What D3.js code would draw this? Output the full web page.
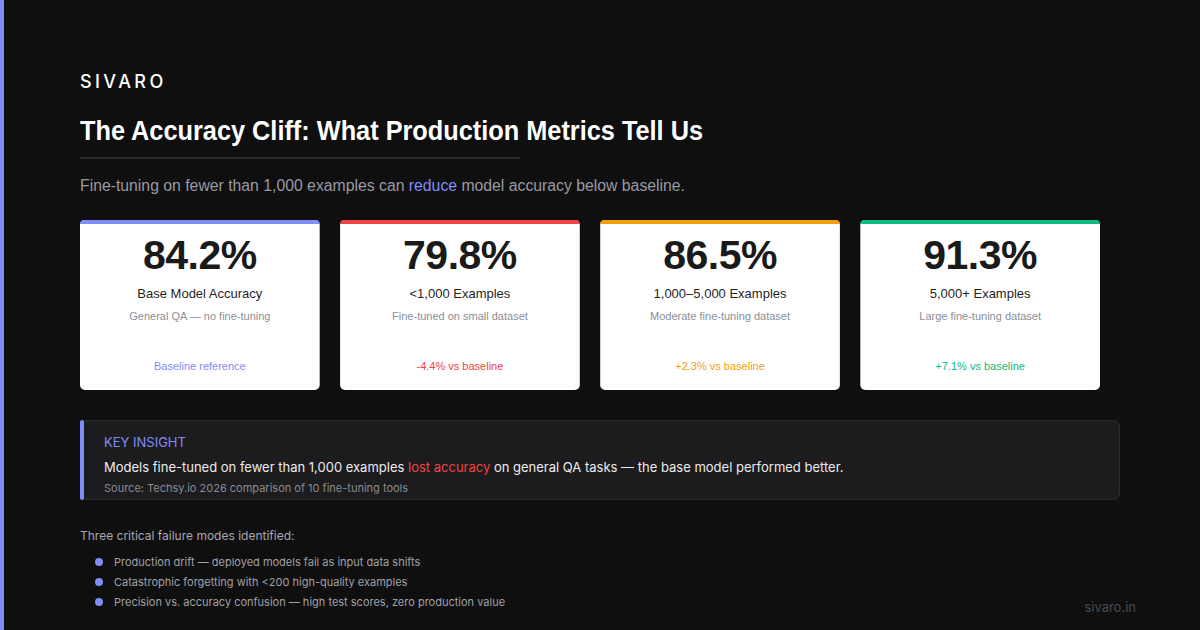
<!DOCTYPE html>
<html>
<head>
<meta charset="utf-8">
<script src="https://cdn.jsdelivr.net/npm/d3@7"></script>
<style>
  html, body { margin: 0; padding: 0; background: #0f0f10; }
  svg { display: block; }
</style>
</head>
<body>
<div id="chart"></div>
<script>
// data
var groups = ['Base Model Accuracy', '<1,000 Examples', '1,000\u20135,000 Examples', '5,000+ Examples'];
var accuracy = [84.2, 79.8, 86.5, 91.3];
var details = ['General QA \u2014 no fine-tuning', 'Fine-tuned on small dataset', 'Moderate fine-tuning dataset', 'Large fine-tuning dataset'];
var deltas = [null, -4.4, 2.3, 7.1];
var failureModes = [
    'Production drift \u2014 deployed models fail as input data shifts',
    'Catastrophic forgetting with <200 high-quality examples',
    'Precision vs. accuracy confusion \u2014 high test scores, zero production value'
];
// end data

var W = 1200, H = 630;
var helv = '"Liberation Sans", Arial, sans-serif';
var sans = 'Inter, "Noto Sans", sans-serif';

var svg = d3.select('#chart').append('svg')
    .attr('width', W)
    .attr('height', H);

svg.append('rect').attr('width', W).attr('height', H).attr('fill', '#0f0f10');
svg.append('rect').attr('width', 4).attr('height', H).attr('fill', '#818cf8');

// header
svg.append('text')
    .attr('x', 80).attr('y', 88)
    .attr('fill', '#ffffff')
    .style('font-family', sans)
    .style('font-size', '18px')
    .style('font-weight', 500)
    .style('letter-spacing', '3.4px')
    .text('SIVARO');

// title font here is condensed, so squeeze it to the reference width
svg.append('text')
    .attr('x', 80).attr('y', 140)
    .attr('fill', '#ffffff')
    .attr('textLength', 623)
    .attr('lengthAdjust', 'spacingAndGlyphs')
    .style('font-family', helv)
    .style('font-size', '28px')
    .style('font-weight', 700)
    .text('The Accuracy Cliff: What Production Metrics Tell Us');

svg.append('rect')
    .attr('x', 80).attr('y', 157)
    .attr('width', 440).attr('height', 2)
    .attr('fill', '#2a2a2d');

var sub = svg.append('text')
    .attr('x', 80).attr('y', 191)
    .attr('fill', '#9a9aa3')
    .attr('textLength', 605)
    .attr('lengthAdjust', 'spacingAndGlyphs')
    .style('font-family', helv)
    .style('font-size', '16px');
sub.append('tspan').text('Fine-tuning on fewer than 1,000 examples can ');
sub.append('tspan').attr('fill', '#818cf8').text('reduce');
sub.append('tspan').text(' model accuracy below baseline.');

// cards
var accent = d3.scaleOrdinal()
    .domain(groups)
    .range(['#818cf8', '#ef4444', '#f59e0b', '#10b981']);

var x = d3.scaleBand()
    .domain(groups)
    .range([80, 1100])
    .paddingInner(20 / 255)
    .paddingOuter(0);

var cardTop = 220, cardH = 170;

var cards = svg.selectAll('g.card')
    .data(groups)
    .enter().append('g')
    .attr('class', 'card')
    .attr('transform', function(d){ return 'translate(' + x(d) + ',' + cardTop + ')'; });

cards.append('rect')
    .attr('width', x.bandwidth())
    .attr('height', cardH)
    .attr('rx', 5)
    .attr('fill', '#ffffff');

cards.append('path')
    .attr('d', function(){
        var w = x.bandwidth(), r = 4;
        return 'M0,4L0,' + r + 'Q0,0 ' + r + ',0L' + (w - r) + ',0Q' + w + ',0 ' + w + ',' + r + 'L' + w + ',4Z';
    })
    .attr('fill', function(d){ return accent(d); });

cards.append('text')
    .attr('x', x.bandwidth() / 2)
    .attr('y', 49)
    .attr('text-anchor', 'middle')
    .attr('fill', '#1a1a1a')
    .style('font-family', helv)
    .style('font-size', '41px')
    .style('font-weight', 700)
    .style('letter-spacing', '-0.5px')
    .text(function(d, i){ return accuracy[i].toFixed(1) + '%'; });

cards.append('text')
    .attr('x', x.bandwidth() / 2).attr('y', 78)
    .attr('text-anchor', 'middle')
    .attr('fill', '#1f1f1f')
    .style('font-family', helv)
    .style('font-size', '13px')
    .text(function(d){ return d; });

cards.append('text')
    .attr('x', x.bandwidth() / 2).attr('y', 100)
    .attr('text-anchor', 'middle')
    .attr('fill', '#8a8f98')
    .style('font-family', helv)
    .style('font-size', '11px')
    .text(function(d, i){ return details[i]; });

cards.append('text')
    .attr('x', x.bandwidth() / 2).attr('y', 150)
    .attr('text-anchor', 'middle')
    .attr('fill', function(d){ return accent(d); })
    .style('font-family', helv)
    .style('font-size', '11px')
    .text(function(d, i){
        var v = deltas[i];
        if(v === null){
            return 'Baseline reference';
        }
        return (v > 0 ? '+' : '') + v.toFixed(1) + '% vs baseline';
    });

// key insight box
var box = svg.append('g').attr('transform', 'translate(80,420)');
box.append('rect')
    .attr('x', 0.5).attr('y', 0.5)
    .attr('width', 1039).attr('height', 79)
    .attr('rx', 6)
    .attr('fill', '#1c1c1f')
    .attr('stroke', '#2c2c30');
box.append('rect')
    .attr('x', 0).attr('y', 0)
    .attr('width', 4).attr('height', 80)
    .attr('rx', 2)
    .attr('fill', '#818cf8');

box.append('text')
    .attr('x', 24).attr('y', 27)
    .attr('fill', '#818cf8')
    .style('font-family', sans)
    .style('font-size', '13px')
    .text('KEY INSIGHT');

var insight = box.append('text')
    .attr('x', 24).attr('y', 52)
    .attr('fill', '#ececec')
    .style('font-family', sans)
    .style('font-size', '13px');
insight.append('tspan').text('Models fine-tuned on fewer than 1,000 examples ');
insight.append('tspan').attr('fill', '#ef4444').text('lost accuracy');
insight.append('tspan').text(' on general QA tasks \u2014 the base model performed better.');

box.append('text')
    .attr('x', 24).attr('y', 72)
    .attr('fill', '#8a8a90')
    .style('font-family', sans)
    .style('font-size', '11px')
    .text('Source: Techsy.io 2026 comparison of 10 fine-tuning tools');

// failure modes
svg.append('text')
    .attr('x', 80).attr('y', 540)
    .attr('fill', '#a8a8ae')
    .style('font-family', sans)
    .style('font-size', '12px')
    .text('Three critical failure modes identified:');

var y = d3.scaleBand()
    .domain(d3.range(failureModes.length))
    .range([552, 612]);

var items = svg.selectAll('g.mode')
    .data(failureModes)
    .enter().append('g')
    .attr('class', 'mode')
    .attr('transform', function(d, i){ return 'translate(0,' + (y(i) + y.bandwidth() / 2) + ')'; });

items.append('circle')
    .attr('cx', 99).attr('cy', 0)
    .attr('r', 4)
    .attr('fill', '#818cf8');

items.append('text')
    .attr('x', 114).attr('y', 4)
    .attr('fill', '#a0a0a6')
    .style('font-family', sans)
    .style('font-size', '11px')
    .text(function(d){ return d; });

svg.append('text')
    .attr('x', 1136).attr('y', 612)
    .attr('text-anchor', 'end')
    .attr('fill', '#4a4a4f')
    .style('font-family', sans)
    .style('font-size', '13px')
    .text('sivaro.in');
</script>
</body>
</html>
